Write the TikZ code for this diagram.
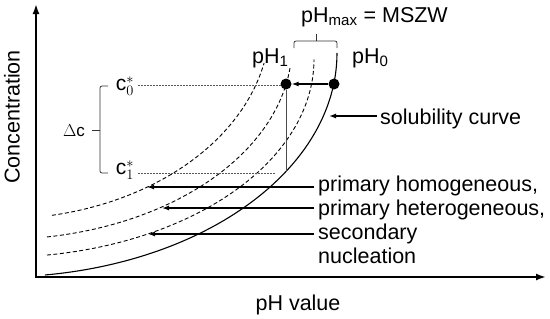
\documentclass[tikz,border=0pt]{standalone}
\usepackage{fontspec}
\setmainfont{Liberation Sans}
\usetikzlibrary{arrows.meta}
\begin{document}
\begin{tikzpicture}[x=1pt,y=-1pt,
  lbl/.style={font=\fontsize{21.5}{24}\selectfont, inner sep=0pt},
  mth/.style={font=\fontsize{21}{24}\selectfont, inner sep=0pt},
  dcurve/.style={line width=0.9pt, dash pattern=on 4pt off 2.5pt},
  scurve/.style={line width=1.1pt},
  axis/.style={line width=1.8pt, {Latex[length=10pt,width=7pt]}-{Latex[length=10pt,width=7pt]}},
  ptr/.style={line width=1.3pt, -{Latex[length=7pt,width=5pt]}},
  guide/.style={gray!70!black, line width=0.7pt, dash pattern=on 2pt off 1pt},
  vguide/.style={gray!60!black, line width=0.7pt},
  dot/.style={circle, fill=black, minimum size=11pt, inner sep=0pt},
  brk/.style={line width=0.8pt, gray!40!black, rounded corners=2pt}]
\useasboundingbox (0,0) rectangle (550,319);

% axes
\coordinate (yTop) at (36,4);
\coordinate (orig) at (36,277);
\coordinate (xEnd) at (546,277);
\draw[axis] (yTop) -- (orig) -- (xEnd);
\node[lbl, rotate=90] (ylab) at (12,117) {Concentration};
\node[lbl] (xlab) at (298,305) {pH value};

% curves (elliptic arcs)
\draw[scurve] plot[domain=7.67:90, samples=70, smooth] ({337*sin(\x)}, {53+224*cos(\x)});
\draw[dcurve] plot[domain=8.61:90, samples=70, smooth] ({314*sin(\x)}, {59.3+198*cos(\x)});
\draw[dcurve] plot[domain=9.26:83.3, samples=70, smooth] ({292*sin(\x)}, {45.5+194*cos(\x)});
\draw[dcurve] plot[domain=11.1:78, samples=70, smooth] ({270*sin(\x)}, {22+197*cos(\x)});

% guides
\node[mth] (c0) at (125,86) {$\mathrm{c}_0^*$};
\node[mth] (c1) at (125,170) {$\mathrm{c}_1^*$};
\node[dot] (d1) at (286,84) {};
\node[dot] (d0) at (334,84) {};
\coordinate (c0e) at (281,85);
\coordinate (c1e) at (275,173);
\coordinate (vb) at (286,172);
\draw[guide] (c0.east |- c0e) ++(4,0) -- (c0e);
\draw[guide] (c1.east |- c1e) ++(4,0) -- (c1e);
\draw[vguide] (d1) -- (vb);
\draw[ptr] (d0) -- (d1);

% Delta c bracket
\coordinate (bt) at (108,86);
\coordinate (bb) at (108,173);
\draw[brk] (bt) -- (100,86) -- (100,173) -- (bb);
\draw[brk] (100,130) -- (92,130);
\node[mth, font=\fontsize{17}{20}\selectfont] (dc) at (74,131) {$\Delta\mathrm{c}$};

% pH labels and MSZW brace
\node[lbl, anchor=base west] (ph1) at (252,63) {pH\textsubscript{1}};
\node[lbl, anchor=base west] (ph0) at (352,63) {pH\textsubscript{0}};
\node[lbl, anchor=base west] (msz) at (301,22) {pH\textsubscript{max} = MSZW};
\coordinate (brL) at (294,48);
\coordinate (brR) at (337,48);
\draw[brk] (brL) -- (294,41) -- (337,41) -- (brR);
\draw[brk] (316,41) -- (316,34);

% solubility curve label
\node[lbl, anchor=base west] (sol) at (380,124) {solubility curve};
\coordinate (solS) at (377,116);
\coordinate (solT) at (329,116);
\draw[ptr] (solS) -- (solT);

% nucleation labels
\node[lbl, anchor=base west] (l1) at (318,191) {primary homogeneous,};
\node[lbl, anchor=base west] (l2) at (318,215) {primary heterogeneous,};
\node[lbl, anchor=base west] (l3) at (318,239) {secondary};
\node[lbl, anchor=base west] (l4) at (318,263) {nucleation};
\coordinate (a1s) at (314,187); \coordinate (a1t) at (147,187);
\coordinate (a2s) at (314,208); \coordinate (a2t) at (162,208);
\coordinate (a3s) at (314,234); \coordinate (a3t) at (148,234);
\draw[ptr] (a1s) -- (a1t);
\draw[ptr] (a2s) -- (a2t);
\draw[ptr] (a3s) -- (a3t);
\end{tikzpicture}
\end{document}
